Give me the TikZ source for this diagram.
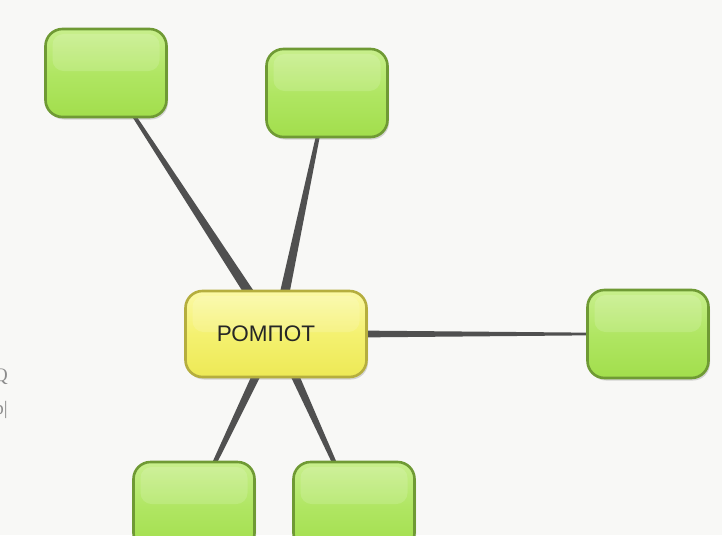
\documentclass[tikz,border=0pt]{standalone}
\usepackage{fontspec}
\setmainfont{Liberation Sans}
\newfontfamily\edgefont{Liberation Serif}
\usetikzlibrary{calc,shadows,backgrounds}

\definecolor{paper}{HTML}{F8F8F6}
\definecolor{linkcol}{HTML}{505050}
\definecolor{leafedge}{HTML}{6F9A34}
\definecolor{leaftop}{HTML}{C8EF8C}
\definecolor{leafmid}{HTML}{B0E663}
\definecolor{leafbot}{HTML}{A2DE4C}
\definecolor{rootedge}{HTML}{B5AE3E}
\definecolor{roottop}{HTML}{FBF9A6}
\definecolor{rootmid}{HTML}{F4F170}
\definecolor{rootbot}{HTML}{EDE956}

\tikzset{
  gloss/.style={path picture={
    \fill[white, opacity=0.14, rounded corners=11pt]
      ($(path picture bounding box.north west)+(7,5)$) rectangle
      ($(path picture bounding box.east)+(-7,-2)$);}},
  boxbase/.style={rectangle, rounded corners=17pt, line width=2.6pt, gloss,
    drop shadow={opacity=0.3, shadow xshift=1.5pt, shadow yshift=-2.5pt}},
  leaf/.style={boxbase, draw=leafedge, minimum width=121pt, minimum height=88pt,
    top color=leaftop, bottom color=leafbot, middle color=leafmid},
  root/.style={boxbase, draw=rootedge, minimum width=181pt, minimum height=86pt,
    top color=roottop, bottom color=rootbot, middle color=rootmid,
    font=\fontsize{22.5}{26}\selectfont, text=black!85},
  cut/.style={font=\edgefont\fontsize{19}{22}\selectfont, text=black!45, inner sep=0pt}
}

% tapered link: from node #1 (half-width #3) to node #2 (half-width #4)
\newcommand\taperlink[4]{%
  \fill[linkcol] ($(#1)!#3!90:(#2)$) -- ($(#2)!#4!-90:(#1)$)
    -- ($(#2)!#4!90:(#1)$) -- ($(#1)!#3!-90:(#2)$) -- cycle;}

\begin{document}
\begin{tikzpicture}[x=1pt, y=-1pt]
  \useasboundingbox (0,0) rectangle (722,535);

  % central topic
  \node[root] (c) at (276,334) {\hspace*{-20pt}РОМПОТ};

  % surrounding topics
  \node[leaf] (tl) at (106,73) {};
  \node[leaf] (tm) at (327,93) {};
  \node[leaf] (r)  at (648,334) {};
  \node[leaf] (bl) at (194,506) {};
  \node[leaf] (bm) at (354,506) {};

  % paper and links behind the boxes
  \begin{scope}[on background layer]
    \fill[paper] (0,0) rectangle (722,535);
    \taperlink{c}{tl}{5.5pt}{1.2pt}
    \taperlink{c}{tm}{5.5pt}{1.2pt}
    \taperlink{c}{r}{4.2pt}{0.8pt}
    \taperlink{c}{bl}{5pt}{1.3pt}
    \taperlink{c}{bm}{5pt}{1.3pt}
  \end{scope}

  % text cut off at the left edge
  \node[cut, anchor=east] (q1) at (8,377) {Q};
  \node[cut, anchor=east] (q2) at (8,410) {p|};
\end{tikzpicture}
\end{document}
